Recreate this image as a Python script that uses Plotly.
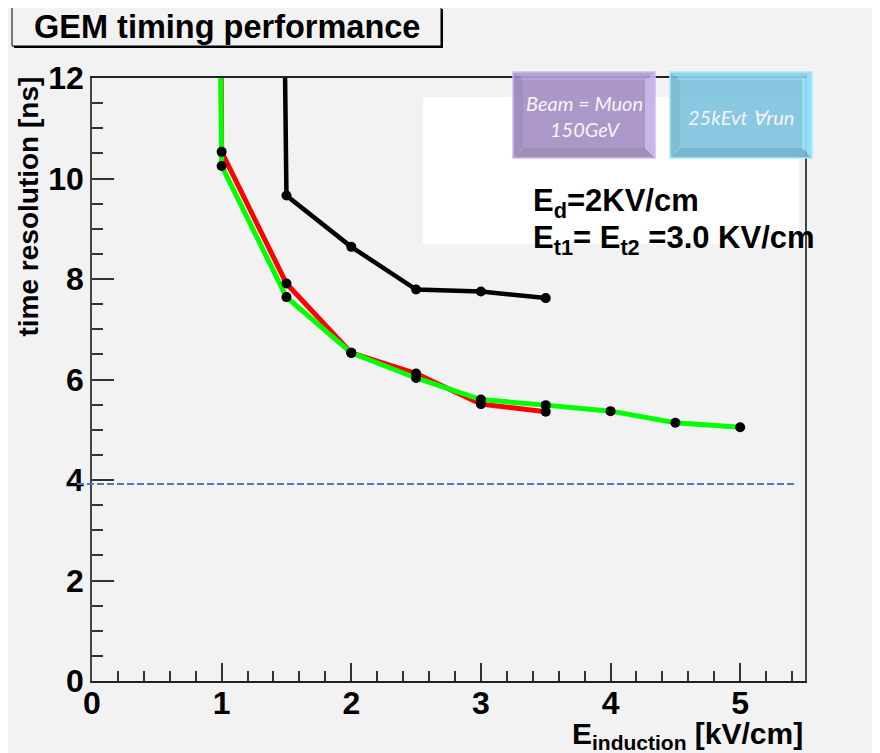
import plotly.graph_objects as go

# ---------------- data ----------------
# first point of each series lies above the visible range (curve enters from the top)
x_black = [1.485, 1.5, 2.0, 2.5, 3.0, 3.5]
y_black = [13.0, 9.66, 8.64, 7.79, 7.75, 7.62]

x_red = [0.995, 1.0, 1.5, 2.0, 2.5, 3.0, 3.5]
y_red = [13.0, 10.53, 7.91, 6.53, 6.12, 5.51, 5.36]

x_green = [0.99, 1.0, 1.5, 2.0, 2.5, 3.0, 3.5, 4.0, 4.5, 5.0]
y_green = [13.0, 10.25, 7.64, 6.53, 6.03, 5.60, 5.49, 5.37, 5.14, 5.05]

ref_level = 3.92
x_range = [0, 5.5]
y_range = [0, 12]
x_ticks = [0, 1, 2, 3, 4, 5]
y_ticks = [0, 2, 4, 6, 8, 10, 12]

title_text = "GEM timing performance"
y_title = "time resolution [ns]"
x_title = "E<sub>induction</sub> [kV/cm]"
note1 = "E<sub>d</sub>=2KV/cm"
note2 = "E<sub>t1</sub>= E<sub>t2</sub> =3.0 KV/cm"
box1_text = "Beam = Muon<br>150GeV"
box2_text = "25kEvt \u2200run"

# ---------------- geometry helpers (page pixel coordinates) ----------------
PAGE_W, PAGE_H = 880, 753
OFF = 8                       # default body margin of the html page
WIDTH, HEIGHT = PAGE_W - OFF, PAGE_H - OFF
L, R, T, B = 92, 805, 78, 681  # plot area on the page
PW, PH = R - L, B - T


def px(x):
    return (x - L) / PW


def py(y):
    return (B - y) / PH


BOLD = dict(family="Liberation Sans, Arial, sans-serif", color="black", weight="bold")

fig = go.Figure()

for xs, ys, col, w in [(x_black, y_black, "black", 4.5),
                       (x_red, y_red, "#ff0000", 5),
                       (x_green, y_green, "#00ff00", 5)]:
    fig.add_trace(go.Scatter(x=xs, y=ys, mode="lines",
                             line=dict(color=col, width=w), showlegend=False,
                             hoverinfo="skip"))
for xs, ys in [(x_black, y_black), (x_red, y_red), (x_green, y_green)]:
    fig.add_trace(go.Scatter(x=xs, y=ys, mode="markers",
                             marker=dict(color="black", size=10), showlegend=False))

shapes = []
# white panel behind the text
shapes.append(dict(type="rect", xref="paper", yref="paper", layer="below",
                   x0=px(423), x1=px(799), y0=py(244), y1=py(97),
                   fillcolor="white", line=dict(width=0)))
# reference dashed line
shapes.append(dict(type="line", xref="paper", yref="y",
                   x0=px(77), x1=px(796), y0=ref_level, y1=ref_level,
                   line=dict(color="#4a7ebb", width=2, dash="7px,3px")))
# title box shadow + box
shapes.append(dict(type="rect", xref="paper", yref="paper",
                   x0=px(14), x1=px(443), y0=py(48), y1=py(9),
                   fillcolor="black", line=dict(width=0)))
shapes.append(dict(type="rect", xref="paper", yref="paper",
                   x0=px(12), x1=px(441), y0=py(46), y1=py(7),
                   fillcolor="#f2f2f2", line=dict(color="black", width=1)))


def path(pts):
    return "M " + " L ".join(f"{px(a):.5f},{py(b):.5f}" for a, b in pts) + " Z"


def bevel_box(o, i, face, top, left, right, bottom, edge):
    ox0, oy0, ox1, oy1 = o
    ix0, iy0, ix1, iy1 = i
    out = []
    out.append(dict(type="path", xref="paper", yref="paper", opacity=0.93,
                    path=path([(ox0, oy0), (ox1, oy0), (ix1, iy0), (ix0, iy0)]),
                    fillcolor=top, line=dict(width=0)))
    out.append(dict(type="path", xref="paper", yref="paper", opacity=0.93,
                    path=path([(ox0, oy0), (ix0, iy0), (ix0, iy1), (ox0, oy1)]),
                    fillcolor=left, line=dict(width=0)))
    out.append(dict(type="path", xref="paper", yref="paper", opacity=0.93,
                    path=path([(ox1, oy0), (ox1, oy1), (ix1, iy1), (ix1, iy0)]),
                    fillcolor=right, line=dict(width=0)))
    out.append(dict(type="path", xref="paper", yref="paper", opacity=0.93,
                    path=path([(ox0, oy1), (ix0, iy1), (ix1, iy1), (ox1, oy1)]),
                    fillcolor=bottom, line=dict(width=0)))
    out.append(dict(type="rect", xref="paper", yref="paper", opacity=0.93,
                    x0=px(ix0), x1=px(ix1), y0=py(iy1), y1=py(iy0),
                    fillcolor=face, line=dict(width=0)))
    out.append(dict(type="rect", xref="paper", yref="paper",
                    x0=px(ox0), x1=px(ox1), y0=py(oy1), y1=py(oy0),
                    fillcolor="rgba(0,0,0,0)", line=dict(color=edge, width=1.5)))
    return out


shapes += bevel_box((513, 72, 655, 158), (523, 80, 645, 148),
                    "#a690c4", "#b29dd1", "#9c87ba", "#c4b0e5", "#9886b0", "#cbbcef")
shapes += bevel_box((670, 72, 812, 158), (680, 80, 802, 148),
                    "#7fc4de", "#8ccfe8", "#76b9d3", "#8fdef7", "#6fb1ca", "#a6ebff")

annotations = [
    dict(text=title_text, x=px(226.5), y=py(27), xref="paper", yref="paper",
         xanchor="center", yanchor="middle", showarrow=False,
         font=dict(size=32.5, **BOLD)),
    dict(text=y_title, x=px(28), y=py(206.5), xref="paper", yref="paper",
         xanchor="center", yanchor="middle", showarrow=False, textangle=-90,
         font=dict(size=28, **BOLD)),
    dict(text=x_title, x=px(805), y=py(735), xref="paper", yref="paper",
         xanchor="right", yanchor="middle", showarrow=False,
         font=dict(size=30, **BOLD)),
    dict(text=note1, x=px(531), y=py(203), xref="paper", yref="paper",
         xanchor="left", yanchor="middle", showarrow=False,
         font=dict(size=31, **BOLD)),
    dict(text=note2, x=px(531), y=py(240), xref="paper", yref="paper",
         xanchor="left", yanchor="middle", showarrow=False,
         font=dict(size=31, **BOLD)),
    dict(text=box1_text, x=px(584), y=py(116), xref="paper", yref="paper",
         xanchor="center", yanchor="middle", showarrow=False,
         font=dict(size=20, family="Lato, Open Sans, sans-serif", style="italic",
                   color="#f6f3fb")),
    dict(text=box2_text, x=px(741), y=py(117), xref="paper", yref="paper",
         xanchor="center", yanchor="middle", showarrow=False,
         font=dict(size=20, family="Lato, Open Sans, sans-serif", style="italic",
                   color="#f6f3fb")),
]

fig.update_layout(
    width=WIDTH, height=HEIGHT,
    margin=dict(l=L - OFF, r=PAGE_W - R, t=T - OFF, b=PAGE_H - B, pad=0),
    paper_bgcolor="#f2f2f2", plot_bgcolor="#f2f2f2",
    shapes=shapes, annotations=annotations, showlegend=False,
)
fig.update_xaxes(range=x_range, tickvals=x_ticks, ticktext=[str(v) for v in x_ticks],
                 showgrid=False, zeroline=False,
                 showline=True, linecolor="#222", linewidth=1.5, mirror=True,
                 ticks="inside", ticklen=18, tickwidth=1.5, tickcolor="#333",
                 minor=dict(dtick=0.2, ticks="inside", ticklen=10, tickwidth=1.5,
                            tickcolor="#333", showgrid=False),
                 tickfont=dict(size=32, **BOLD), ticklabelstandoff=-7)
fig.update_yaxes(range=y_range, tickvals=y_ticks, ticktext=[str(v) for v in y_ticks],
                 showgrid=False, zeroline=False,
                 showline=True, linecolor="#444", linewidth=1.5, mirror=True,
                 ticks="inside", ticklen=22, tickwidth=1.5, tickcolor="#333",
                 minor=dict(dtick=0.5, ticks="inside", ticklen=11, tickwidth=1.5,
                            tickcolor="#333", showgrid=False),
                 tickfont=dict(size=32, **BOLD), ticklabelstandoff=0)

fig.write_html("out.html")
